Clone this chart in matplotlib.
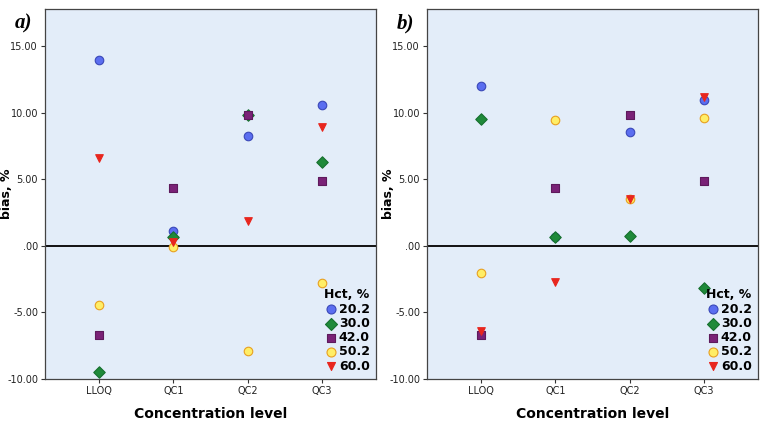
import matplotlib
matplotlib.use("Agg")
import matplotlib.pyplot as plt

levels = ["LLOQ", "QC1", "QC2", "QC3"]
hct = ["20.2", "30.0", "42.0", "50.2", "60.0"]

# bias, % per Hct group at LLOQ, QC1, QC2, QC3
bias_a = {
    "20.2": [14.0, 1.1, 8.27, 10.6],
    "30.0": [-9.5, 0.7, 9.85, 6.3],
    "42.0": [-6.7, 4.33, 9.83, 4.85],
    "50.2": [-4.45, -0.05, -7.9, -2.78],
    "60.0": [6.6, 0.3, 1.9, 8.9],
}
bias_b = {
    "20.2": [12.0, 0.7, 8.57, 10.95],
    "30.0": [9.55, 0.65, 0.77, -3.18],
    "42.0": [-6.7, 4.33, 9.83, 4.85],
    "50.2": [-2.05, 9.43, 3.5, 9.58],
    "60.0": [-6.43, -2.7, 3.5, 11.15],
}

styles = {
    "20.2": dict(marker="o", color="#5b6ef0", edge="#3a48b8", size=38),
    "30.0": dict(marker="D", color="#1f8a3a", edge="#16702e", size=34),
    "42.0": dict(marker="s", color="#7a2277", edge="#5e1a5c", size=38),
    "50.2": dict(marker="o", color="#ffee66", edge="#e8a020", size=38),
    "60.0": dict(marker="v", color="#e8261e", edge="#e8261e", size=30),
}

fig = plt.figure(figsize=(7.64, 4.22), dpi=100)
panels = [("a)", bias_a, 0.0589), ("b)", bias_b, 0.5589)]
x = list(range(len(levels)))

for tag, data, left in panels:
    ax = fig.add_axes([left, 0.1019, 0.4333, 0.8768])
    ax.set_facecolor("#e3edf9")
    ax.axhline(0, color="#111111", lw=1.4, zorder=1)
    for i, h in enumerate(hct):
        st = styles[h]
        ax.scatter(x, data[h], marker=st["marker"], s=st["size"], c=st["color"],
                   edgecolors=st["edge"], linewidths=0.8, label=h, zorder=3 + i)
    ax.set_xlim(-0.73, 3.73)
    ax.set_ylim(-10, 17.8)
    ax.set_xticks(x)
    ax.set_xticklabels(levels)
    ax.set_yticks([-10, -5, 0, 5, 10, 15])
    ax.set_yticklabels(["-10.00", "-5.00", ".00", "5.00", "10.00", "15.00"])
    ax.tick_params(labelsize=7, length=3, pad=2, color="#333333", labelcolor="#222222")
    for sp in ax.spines.values():
        sp.set_color("#444444")
        sp.set_linewidth(0.9)
    ax.set_xlabel("Concentration level", fontsize=10, fontweight="bold", labelpad=8)
    ax.set_ylabel("bias, %", fontsize=9, fontweight="bold")
    ax.yaxis.set_label_coords(-0.097, 0.5)
    leg = ax.legend(title="Hct, %", loc="lower right", frameon=False,
                    prop={"weight": "bold", "size": 9}, handletextpad=0.0,
                    labelspacing=0.1, borderaxespad=0.1, handlelength=1.2,
                    markerscale=1.05)
    leg.get_title().set_fontweight("bold")
    leg.get_title().set_fontsize(9)
    fig.text(left - 0.04, 0.945, tag, fontsize=15, fontweight="bold", style="italic",
             family="Liberation Serif", ha="left", va="center")

fig.savefig("out.png", dpi=100)
